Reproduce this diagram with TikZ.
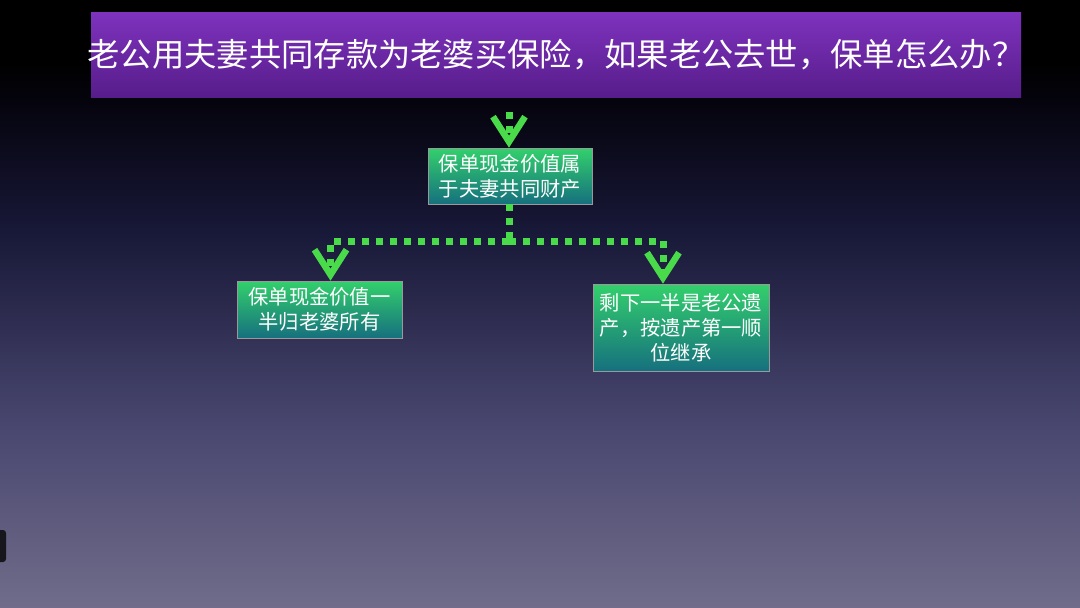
\documentclass[tikz,border=0pt]{standalone}
\usepackage{fontspec}
\newfontfamily\cjk{Noto Sans CJK SC}
\usetikzlibrary{arrows.meta,calc}
\definecolor{lineg}{HTML}{4ADB4A}
\definecolor{boxtop}{HTML}{33D06C}
\definecolor{boxbot}{HTML}{16707E}
\definecolor{titletop}{HTML}{7E32BE}
\definecolor{titlebot}{HTML}{571D8A}
\definecolor{bgnavy}{HTML}{181838}
\definecolor{bgmid}{HTML}{4A4870}
\definecolor{bgbot}{HTML}{706C8A}
\definecolor{bgdark}{HTML}{05040E}
\pgfdeclareverticalshading{bgshade}{100bp}{color(0bp)=(bgbot); color(25bp)=(bgbot); color(39.5bp)=(bgmid); color(56bp)=(bgnavy); color(66.5bp)=(bgdark); color(70bp)=(black); color(100bp)=(black)}
\tikzset{
  box/.style={rectangle, draw=black!40, line width=0.6pt, top color=boxtop, bottom color=boxbot,
    text=white, font=\cjk\fontsize{20.3}{25}\selectfont, align=center, inner sep=0pt},
  flow/.style={draw=lineg, line width=7pt, dash pattern=on 7pt off 7pt,
    -{Straight Barb[length=25pt,width=32pt,line width=6.5pt]}},
  flowplain/.style={draw=lineg, line width=7pt, dash pattern=on 7pt off 7pt}
}
\begin{document}
\begin{tikzpicture}[x=1pt,y=-1pt]
\useasboundingbox (0,0) rectangle (1080,608);
\shade[shading=bgshade] (0,0) rectangle (1080,608);
\fill[black!80!bgbot, rounded corners=3pt] (-4,530) rectangle (6,562);
% title
\node[rectangle, minimum width=930pt, minimum height=85pt, top color=titletop, bottom color=titlebot, inner sep=0pt] (title) at (556,54.5) {};
\node[text=white, font=\cjk\fontsize{32.3}{36}\selectfont] (titletext) at (556,55) {老公用夫妻共同存款为老婆买保险，如果老公去世，保单怎么办？};
% boxes
\node[box, minimum width=164pt, minimum height=56pt] (top) at (510,176) {保单现金价值属\\于夫妻共同财产};
\node[box, minimum width=165pt, minimum height=57pt] (left) at (319.5,309.5) {保单现金价值一\\半归老婆所有};
\node[box, minimum width=176pt, minimum height=87pt] (right) at (681,327.5) {剩下一半是老公遗\\产，按遗产第一顺\\位继承};
% connectors
\coordinate (start) at (509,112);
\coordinate (split) at (509,241);
\draw[flow] (start) -- ([xshift=-1pt]top.north);
\draw[flowplain] ([xshift=-1pt]top.south) -- (split);
\draw[flow] (split) -| ([xshift=11pt]left.north);
\draw[flow] (split) -| ([xshift=-18pt]right.north);
\end{tikzpicture}
\end{document}
